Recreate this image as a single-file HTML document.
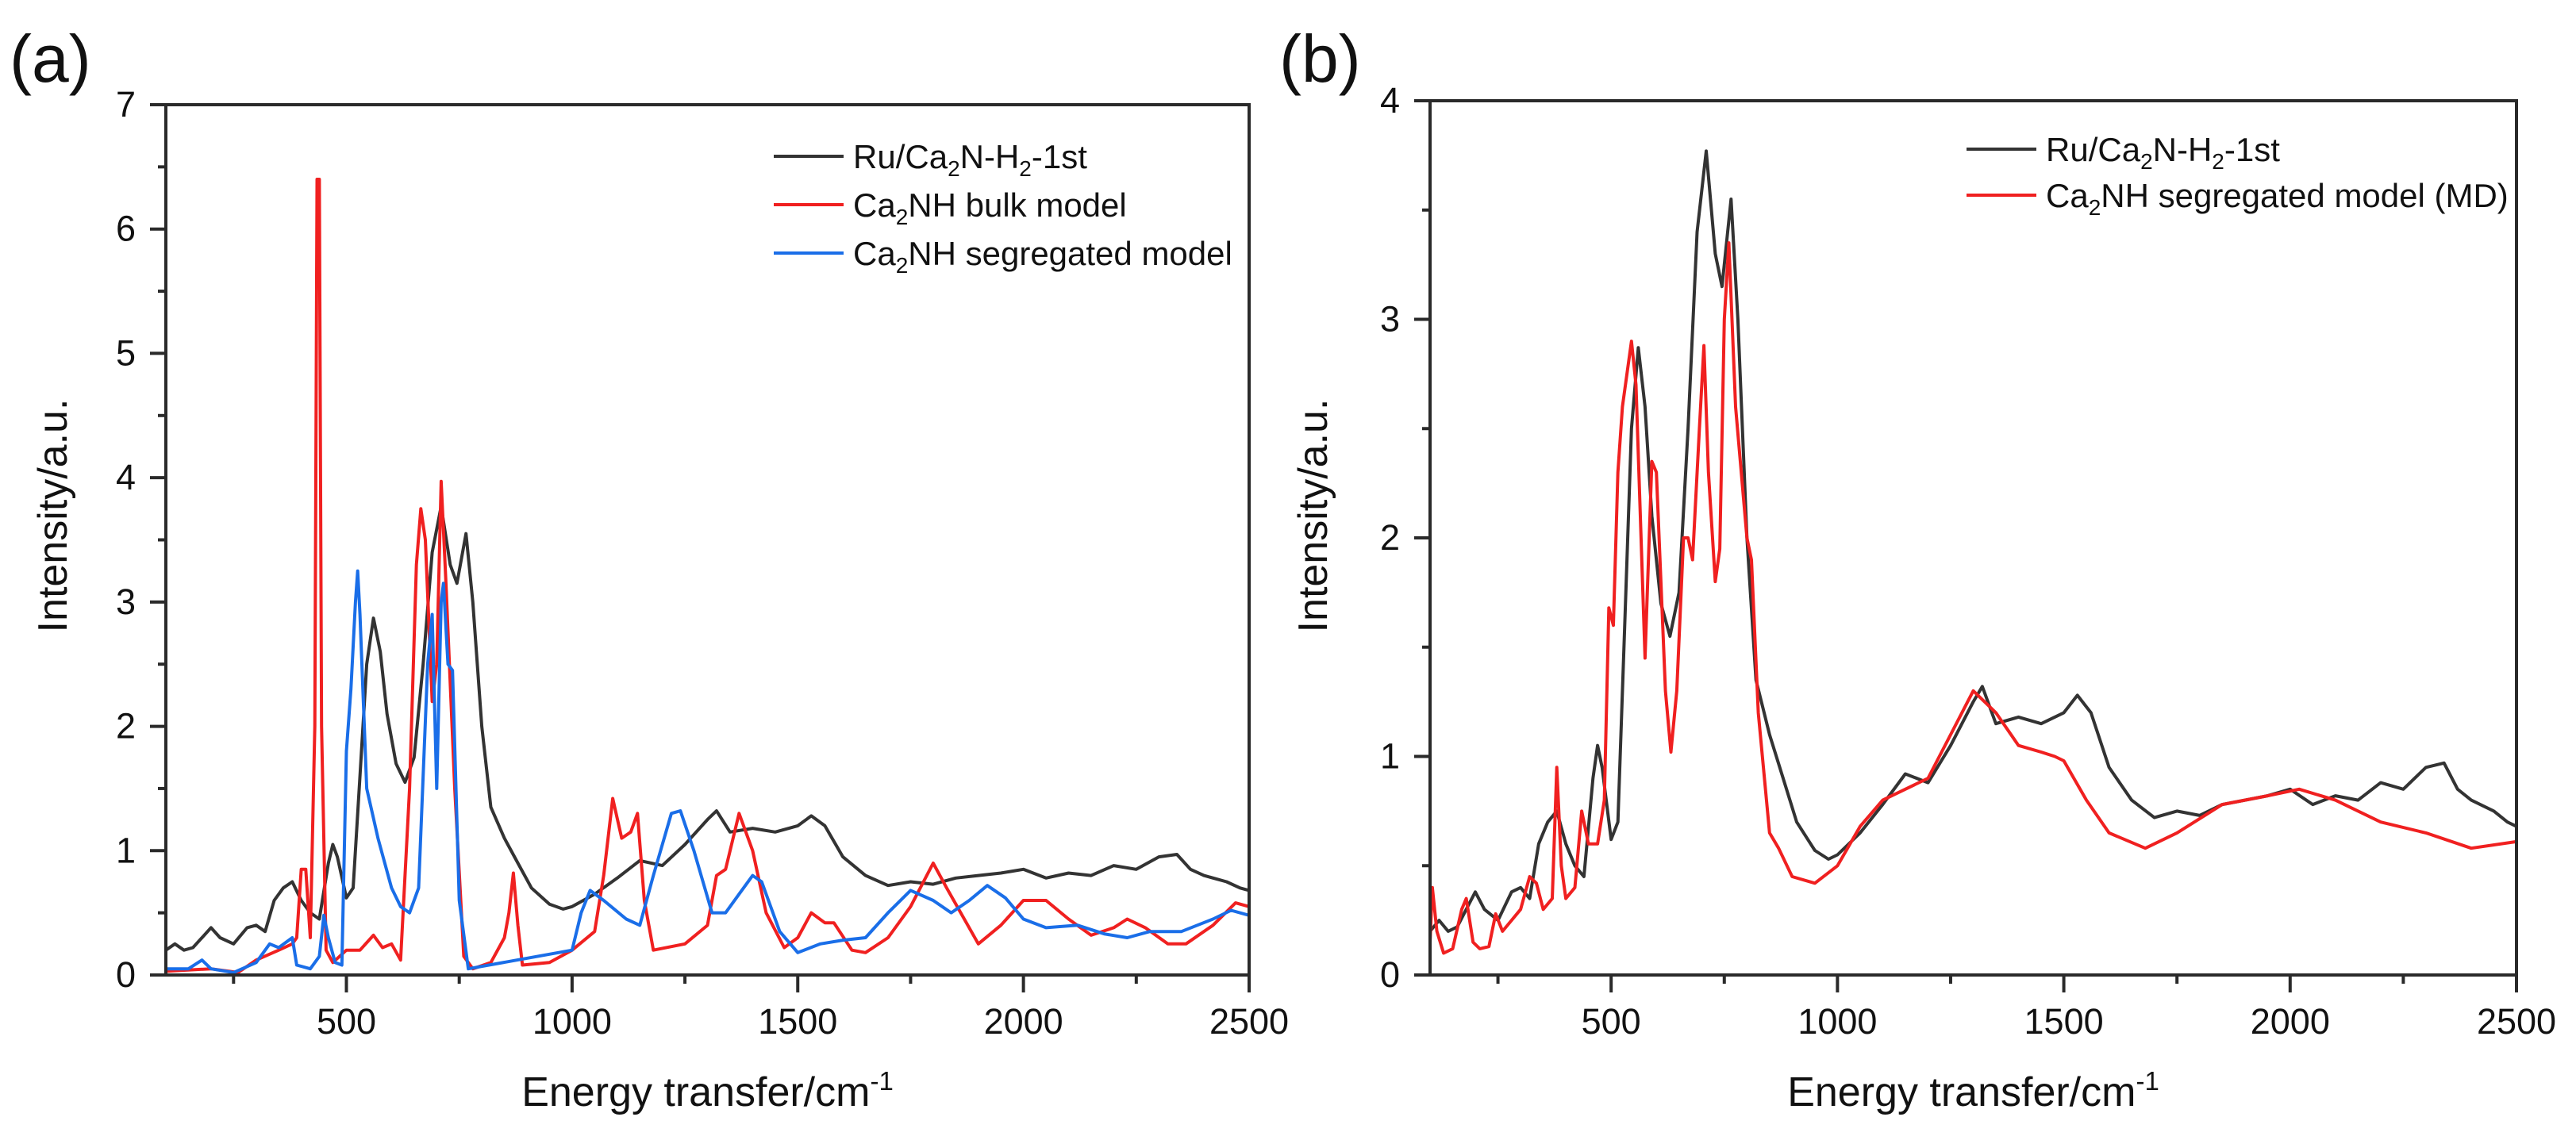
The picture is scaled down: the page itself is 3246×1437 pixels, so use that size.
<!DOCTYPE html>
<html><head><meta charset="utf-8">
<style>
html,body{margin:0;padding:0;background:#fff;}
svg{display:block;font-family:"Liberation Sans",Arial,sans-serif;}
</style></head>
<body>
<svg id="fig" width="3246" height="1437" viewBox="0 0 3246 1437" xmlns="http://www.w3.org/2000/svg"></svg>
<script>
// ---- data ----
const expX = [100,120,140,160,180,200,220,250,280,300,320,340,360,380,400,420,440,460,470,480,500,515,530,545,560,575,590,610,630,650,670,690,710,730,745,765,780,800,820,850,880,910,950,980,1000,1050,1100,1150,1200,1250,1300,1320,1350,1400,1450,1500,1530,1560,1600,1650,1700,1750,1800,1850,1900,1950,2000,2050,2100,2150,2200,2250,2300,2340,2370,2400,2450,2480,2500];
const expY = [0.2,0.25,0.2,0.22,0.3,0.38,0.3,0.25,0.38,0.4,0.35,0.6,0.7,0.75,0.6,0.5,0.45,0.9,1.05,0.95,0.62,0.7,1.6,2.5,2.87,2.6,2.1,1.7,1.55,1.75,2.5,3.4,3.77,3.3,3.15,3.55,3.0,2.0,1.35,1.1,0.9,0.7,0.57,0.53,0.55,0.65,0.78,0.92,0.88,1.05,1.25,1.32,1.15,1.18,1.15,1.2,1.28,1.2,0.95,0.8,0.72,0.75,0.73,0.78,0.8,0.82,0.85,0.78,0.82,0.8,0.88,0.85,0.95,0.97,0.85,0.8,0.75,0.7,0.68];

const bulkX = [100,200,260,300,350,380,390,400,410,420,430,435,440,445,455,470,500,530,560,580,600,620,640,655,665,675,690,700,710,720,740,760,780,820,850,860,870,880,890,950,1000,1050,1070,1090,1110,1130,1145,1160,1180,1250,1300,1320,1340,1370,1400,1430,1470,1500,1530,1560,1580,1620,1650,1700,1750,1800,1830,1900,1950,2000,2050,2100,2150,2200,2230,2270,2320,2360,2420,2470,2500];
const bulkY = [0.03,0.05,0.02,0.12,0.2,0.25,0.3,0.85,0.85,0.3,2,6.4,6.4,2,0.2,0.1,0.2,0.2,0.32,0.22,0.25,0.12,1.5,3.3,3.75,3.5,2.2,2.5,3.97,3.2,1.5,0.15,0.05,0.1,0.3,0.5,0.82,0.4,0.08,0.1,0.2,0.35,0.8,1.42,1.1,1.15,1.3,0.6,0.2,0.25,0.4,0.8,0.85,1.3,1.0,0.5,0.22,0.3,0.5,0.42,0.42,0.2,0.18,0.3,0.55,0.9,0.7,0.25,0.4,0.6,0.6,0.45,0.32,0.38,0.45,0.38,0.25,0.25,0.4,0.58,0.55];

const segX = [100,150,180,200,250,300,330,350,380,390,420,440,450,460,475,490,500,510,520,525,530,545,570,600,620,640,660,680,690,700,710,715,725,735,750,770,1000,1020,1040,1070,1120,1150,1180,1220,1240,1270,1310,1340,1370,1400,1420,1460,1500,1550,1600,1650,1700,1750,1800,1840,1880,1920,1960,2000,2050,2120,2180,2230,2280,2350,2420,2460,2500];
const segY = [0.05,0.05,0.12,0.05,0.02,0.1,0.25,0.22,0.3,0.08,0.05,0.15,0.48,0.3,0.1,0.08,1.8,2.3,3.0,3.25,2.9,1.5,1.1,0.7,0.55,0.5,0.7,2.5,2.9,1.5,3.0,3.15,2.5,2.45,0.6,0.05,0.2,0.5,0.68,0.6,0.45,0.4,0.8,1.3,1.32,1.0,0.5,0.5,0.65,0.8,0.75,0.35,0.18,0.25,0.28,0.3,0.5,0.68,0.6,0.5,0.6,0.72,0.62,0.45,0.38,0.4,0.33,0.3,0.35,0.35,0.45,0.52,0.48];

const mdX = [100,105,115,130,150,170,180,195,210,230,245,260,280,300,320,335,350,370,380,390,400,420,435,450,470,485,495,505,515,525,545,555,575,590,600,620,632,645,660,670,680,695,705,715,730,740,750,760,775,800,810,825,850,870,900,950,1000,1050,1100,1150,1200,1250,1300,1350,1400,1450,1480,1500,1550,1600,1680,1750,1850,1950,2020,2100,2200,2300,2400,2500];
const mdY = [0.15,0.4,0.2,0.1,0.12,0.3,0.35,0.15,0.12,0.13,0.28,0.2,0.25,0.3,0.45,0.42,0.3,0.35,0.95,0.5,0.35,0.4,0.75,0.6,0.6,0.8,1.68,1.6,2.3,2.6,2.9,2.7,1.45,2.35,2.3,1.3,1.02,1.3,2.0,2.0,1.9,2.5,2.88,2.3,1.8,1.95,3.0,3.35,2.6,2.0,1.9,1.2,0.65,0.58,0.45,0.42,0.5,0.68,0.8,0.85,0.9,1.1,1.3,1.2,1.05,1.02,1.0,0.98,0.8,0.65,0.58,0.65,0.78,0.82,0.85,0.8,0.7,0.65,0.58,0.61];

const xTicks = [500,1000,1500,2000,2500];
const yTicksA = [0,1,2,3,4,5,6,7];
const yTicksB = [0,1,2,3,4];

// ---- drawing ----
const NS = "http://www.w3.org/2000/svg";
const svg = document.getElementById('fig');
function mk(tag, attrs, parent){
  const e = document.createElementNS(NS, tag);
  for (const k in attrs) e.setAttribute(k, attrs[k]);
  (parent||svg).appendChild(e);
  return e;
}
function panel(cfg){
  const g = mk('g', {});
  
  
  const sx = v => cfg.x0 + (v - 100) / 2400 * (cfg.x1 - cfg.x0);
  const sy = v => cfg.y0 - v / cfg.ymax * (cfg.y0 - cfg.y1);
  cfg.series.forEach(s => {
    const pts = s.x.map((xv, i) => sx(xv).toFixed(1) + ',' + sy(s.y[i]).toFixed(1)).join(' ');
    const p = mk('polyline', {points: pts, fill: 'none', stroke: s.color, 'stroke-width': 4, 'stroke-linejoin': 'round'}, g);
    
    
  });
  const fr = mk('rect', {x: cfg.x0, y: cfg.y1, width: cfg.x1 - cfg.x0, height: cfg.y0 - cfg.y1, fill: 'none', stroke: '#2a2a2a', 'stroke-width': 4}, g);
  
  
  for (let v = 250; v <= 2500; v += 250) {
    const major = v % 500 === 0;
    mk('line', {x1: sx(v), x2: sx(v), y1: cfg.y0, y2: cfg.y0 + (major ? 22 : 11), stroke: '#2a2a2a', 'stroke-width': 4}, g);
  }
  xTicks.forEach(v => {
    const t = mk('text', {x: sx(v), y: cfg.y0 + 74, 'font-size': 45, 'text-anchor': 'middle', fill: '#111'}, g);
    t.textContent = v;
    
    
  });
  for (let v = 0; v <= cfg.ymax + 1e-9; v += 0.5) {
    const major = Math.abs(v - Math.round(v)) < 1e-9;
    mk('line', {x1: cfg.x0, x2: cfg.x0 - (major ? 20 : 10), y1: sy(v), y2: sy(v), stroke: '#2a2a2a', 'stroke-width': 4}, g);
  }
  cfg.yTicks.forEach(v => {
    const t = mk('text', {x: cfg.x0 - 38, y: sy(v) + 15, 'font-size': 45, 'text-anchor': 'end', fill: '#111'}, g);
    t.textContent = v;
    
    
  });
  const yt = mk('text', {x: 0, y: 0, 'font-size': 52, 'text-anchor': 'middle', fill: '#111', transform: `translate(${cfg.ytx},650) rotate(-90)`}, g);
  yt.textContent = 'Intensity/a.u.';
  
  
  const xt = mk('text', {x: (cfg.x0 + cfg.x1) / 2, y: 1394, 'font-size': 52, 'text-anchor': 'middle', fill: '#111'}, g);
  xt.innerHTML = 'Energy transfer/cm<tspan dy="-20" font-size="33">-1</tspan>';
  
  
  const pl = mk('text', {x: cfg.lx, y: 103, 'font-size': 84, fill: '#111'}, g);
  pl.textContent = cfg.label;
  
  
  cfg.legend.forEach((l, i) => {
    const y = cfg.legY + i * cfg.legDy;
    const lg = mk('g', {}, g);
    
    
    mk('line', {x1: cfg.legX, x2: cfg.legX + 88, y1: y, y2: y, stroke: l.color, 'stroke-width': 4}, lg);
    const t = mk('text', {x: cfg.legX + 100, y: y + 15, 'font-size': 42, fill: '#111'}, lg);
    t.innerHTML = l.html;
  });
}
const sub = s => `<tspan dy="10" font-size="28">${s}</tspan><tspan dy="-10">`;
const expHtml = 'Ru/Ca' + sub('2') + 'N-H' + sub('2') + '-1st</tspan>';
panel({
  name: 'panel-a', x0: 209, x1: 1574, y0: 1229, y1: 132, ymax: 7, yTicks: yTicksA, ytx: 84, lx: 12, label: '(a)',
  series: [
    {id: 'exp-series', x: expX, y: expY, color: '#333'},
    {id: 'bulk-model-series', x: bulkX, y: bulkY, color: '#f02020'},
    {id: 'segregated-model-series', x: segX, y: segY, color: '#1a6ee8'}
  ],
  legX: 975, legY: 197, legDy: 61,
  legend: [
    {color: '#333', html: expHtml},
    {color: '#f02020', html: 'Ca' + sub('2') + 'NH bulk model</tspan>'},
    {color: '#1a6ee8', html: 'Ca' + sub('2') + 'NH segregated model</tspan>'}
  ]
});
panel({
  name: 'panel-b', x0: 1802, x1: 3171, y0: 1229, y1: 127, ymax: 4, yTicks: yTicksB, ytx: 1672, lx: 1612, label: '(b)',
  series: [
    {id: 'exp-series', x: expX, y: expY, color: '#333'},
    {id: 'md-model-series', x: mdX, y: mdY, color: '#f02020'}
  ],
  legX: 2478, legY: 188, legDy: 58,
  legend: [
    {color: '#333', html: expHtml},
    {color: '#f02020', html: 'Ca' + sub('2') + 'NH segregated model (MD)</tspan>'}
  ]
});
</script>
</body></html>
